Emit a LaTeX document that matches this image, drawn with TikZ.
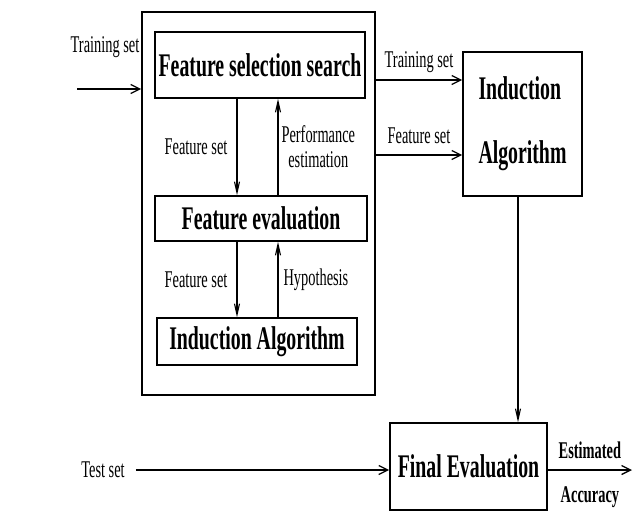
\documentclass[tikz,border=0pt]{standalone}
\usepackage{fontspec}
\setmainfont{Liberation Serif}[FakeStretch=0.6]
\usepackage{tikz}
\usetikzlibrary{
	arrows.meta,
	positioning
}

\newcommand{\blockfont}{\fontsize{33}{34}\selectfont\bfseries}
\newcommand{\labelfont}{\fontsize{24}{25}\selectfont}

\tikzset{
	block/.style={draw=black,line width=1.6pt,inner sep=0pt,font=\blockfont},
	flow/.style={line width=1.3pt,-{Straight Barb[length=9pt,width=9pt,line width=1.3pt]}},
	vflow/.style={line width=1.1pt,-{Straight Barb[length=11pt,width=5pt,line width=1.1pt]}},
	lbl/.style={font=\labelfont,inner sep=1pt}
}

\begin{document}
\begin{tikzpicture}[x=1pt,y=-1pt]
		\useasboundingbox (0,0) rectangle (633,515);

		% wrapper around the search loop
		\node[block,minimum width=233pt,minimum height=383pt] (wrapper) at (258.5,203.5) {};
		\node[block,minimum width=210pt,minimum height=66pt] (search) at (260,65) {Feature selection search};
		\node[block,minimum width=212pt,minimum height=45pt] (evaluation) at (261,218.5) {Feature evaluation};
		\node[block,minimum width=200pt,minimum height=47pt] (innerind) at (257,341.5) {Induction Algorithm};

		\node[block,minimum width=119pt,minimum height=144pt,align=left] (induction) at (522.5,124)
			{Induction\\[30pt]Algorithm};
		\node[block,minimum width=157pt,minimum height=87pt] (final) at (468.5,466.5) {Final Evaluation};

		\coordinate (down) at (237,0);
		\coordinate (up) at (278,0);
		\coordinate (trainin) at (77,89);
		\coordinate (trainout) at (0,80);
		\coordinate (featout) at (0,155);
		\coordinate (result) at (518,0);
		\coordinate (accuracy) at (632,470);

		% inner loop
		\draw[vflow] (search.south -| down) -- (evaluation.north -| down)
			node[lbl,midway,left=8pt] {Feature set};
		\draw[vflow] (evaluation.north -| up) -- (search.south -| up)
			node[lbl,midway,right=2pt,align=center] {Performance\\estimation};
		\draw[vflow] (evaluation.south -| down) -- (innerind.north -| down)
			node[lbl,midway,left=8pt] {Feature set};
		\draw[vflow] (innerind.north -| up) -- (evaluation.south -| up)
			node[lbl,midway,right=4pt] {Hypothesis};

		% inputs and outputs
		\draw[flow] (trainin) -- (wrapper.west |- trainin);
		\node[lbl] (traininlbl) at (105,47) {Training set};
		\draw[flow] (wrapper.east |- trainout) -- (induction.west |- trainout)
			node[lbl,midway,above=6pt] {Training set};
		\draw[flow] (wrapper.east |- featout) -- (induction.west |- featout)
			node[lbl,midway,above=10pt] {Feature set};
		\draw[vflow] (induction.south -| result) -- (final.north -| result);

		\node[lbl] (testset) at (103,470) {Test set};
		\draw[flow] (testset.east) ++(10pt,0) -- (final.west |- testset);
		\draw[flow] (final.east |- accuracy) -- (accuracy)
			node[lbl,midway,above=10pt,font=\labelfont\bfseries] {Estimated}
			node[lbl,midway,below=15pt,font=\labelfont\bfseries] {Accuracy};
	\end{tikzpicture}
\end{document}
